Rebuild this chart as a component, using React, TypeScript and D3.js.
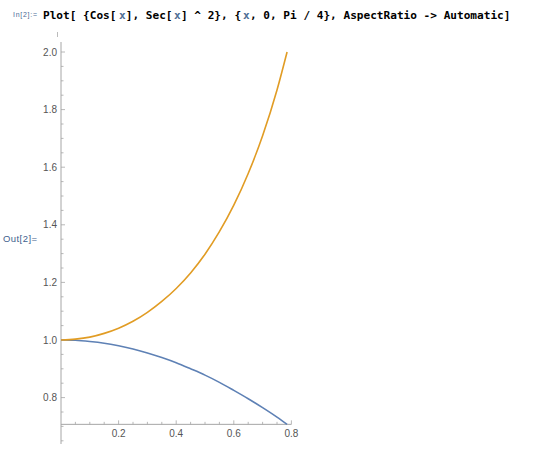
import React, { useEffect, useRef } from 'react';
import * as d3 from 'd3';

// x samples over [0, Pi/4] and the two curves
const xs = [0, 0.05, 0.1, 0.15, 0.2, 0.25, 0.3, 0.35, 0.4, 0.45, 0.5, 0.55, 0.6, 0.65, 0.7, 0.75, 0.785];
const cosVals = [1, 0.999, 0.995, 0.989, 0.98, 0.969, 0.955, 0.939, 0.921, 0.9, 0.878, 0.853, 0.825, 0.796, 0.765, 0.732, 0.707];
const sec2Vals = [1, 1.003, 1.01, 1.023, 1.041, 1.065, 1.096, 1.134, 1.179, 1.233, 1.298, 1.376, 1.468, 1.578, 1.709, 1.868, 2.0];
const xTicks = [0.2, 0.4, 0.6, 0.8];
const yTicks = [0.8, 1.0, 1.2, 1.4, 1.6, 1.8, 2.0];

const App = () => {
    const ref = useRef<SVGSVGElement>(null);

    useEffect(() => {
        const svg = d3.select(ref.current);
        svg.selectAll('*').remove();

        const x = d3.scaleLinear().domain([0, 0.8]).range([61, 291.4]);
        const y = d3.scaleLinear().domain([1, 2]).range([340, 52]);
        const axisY = y(0.7071);

        // header
        svg.append('text')
            .attr('x', 13).attr('y', 17)
            .attr('font-family', 'Liberation Sans, sans-serif')
            .attr('font-size', 7)
            .attr('fill', '#4a6a95')
            .attr('textLength', 24)
            .text('In[2]:=');

        // input line, split so the variable x can be coloured; monospace so each piece is placed by char count
        const parts: [string, string][] = [
            ['Plot[ {Cos[', '#000'], ['x', '#4f6f95'], ['], Sec[', '#000'], ['x', '#4f6f95'],
            ['] ^ 2}, {', '#000'], ['x', '#4f6f95'], [', 0, Pi / 4}, AspectRatio -> Automatic]', '#000'],
        ];
        const charW = 476 / parts.reduce((s, p) => s + p[0].length, 0);
        let offset = 0;
        parts.forEach(([t, c]) => {
            svg.append('text')
                .attr('x', 43 + offset * charW).attr('y', 18.5)
                .attr('font-family', 'DejaVu Sans Mono, monospace')
                .attr('font-weight', 'bold')
                .attr('font-size', 11.1)
                .attr('fill', c)
                .style('white-space', 'pre')
                .text(t);
            offset += t.length;
        });

        svg.append('line')
            .attr('x1', 57.5).attr('x2', 57.5).attr('y1', 32).attr('y2', 37)
            .attr('stroke', '#aaa').attr('stroke-width', 0.8);

        svg.append('text')
            .attr('x', 3).attr('y', 242)
            .attr('font-family', 'Liberation Sans, sans-serif')
            .attr('font-size', 9.5)
            .attr('fill', '#3f5f8e')
            .attr('textLength', 34)
            .text('Out[2]=');

        const axisColor = '#a6a6a6';
        const labelColor = '#555';

        // y axis
        const g = svg.append('g');
        g.append('line')
            .attr('x1', x(0)).attr('x2', x(0)).attr('y1', 42).attr('y2', 444)
            .attr('stroke', axisColor).attr('stroke-width', 1);
        d3.range(0.65, 2.04, 0.05).forEach(v => {
            const isMajor = Math.abs(v * 5 - Math.round(v * 5)) < 1e-6;
            g.append('line')
                .attr('x1', x(0)).attr('x2', x(0) + (isMajor ? 4 : 2.5))
                .attr('y1', y(v)).attr('y2', y(v))
                .attr('stroke', axisColor).attr('stroke-width', 0.8);
        });
        yTicks.forEach(v => {
            g.append('text')
                .attr('x', x(0) - 4).attr('y', y(v) + 3.5)
                .attr('text-anchor', 'end')
                .attr('font-family', 'Liberation Sans, sans-serif')
                .attr('font-size', 10)
                .attr('fill', labelColor)
                .text(d3.format('.1f')(v));
        });

        // x axis
        g.append('line')
            .attr('x1', x(0)).attr('x2', x(0.8)).attr('y1', axisY).attr('y2', axisY)
            .attr('stroke', axisColor).attr('stroke-width', 1);
        d3.range(0.05, 0.81, 0.05).forEach(v => {
            const isMajor = Math.abs(v * 5 - Math.round(v * 5)) < 1e-6;
            g.append('line')
                .attr('x1', x(v)).attr('x2', x(v))
                .attr('y1', axisY).attr('y2', axisY - (isMajor ? 4 : 2.5))
                .attr('stroke', axisColor).attr('stroke-width', 0.8);
        });
        xTicks.forEach(v => {
            g.append('text')
                .attr('x', x(v)).attr('y', axisY + 13)
                .attr('text-anchor', 'middle')
                .attr('font-family', 'Liberation Sans, sans-serif')
                .attr('font-size', 10)
                .attr('fill', labelColor)
                .text(d3.format('.1f')(v));
        });

        const line = (vals: number[]) => d3.line<number>()
            .x((_, i) => x(xs[i]))
            .y(d => y(d))
            .curve(d3.curveMonotoneX)(vals);

        svg.append('path')
            .attr('d', line(cosVals))
            .attr('fill', 'none')
            .attr('stroke', '#5e81b5')
            .attr('stroke-width', 1.6);

        svg.append('path')
            .attr('d', line(sec2Vals))
            .attr('fill', 'none')
            .attr('stroke', '#e19c24')
            .attr('stroke-width', 1.6);
    }, []);

    return (
        <svg ref={ref} width={533} height={457} style={{ display: 'block', position: 'absolute', left: 0, top: 0, background: '#fff' }} />
    );
};

export default App;
